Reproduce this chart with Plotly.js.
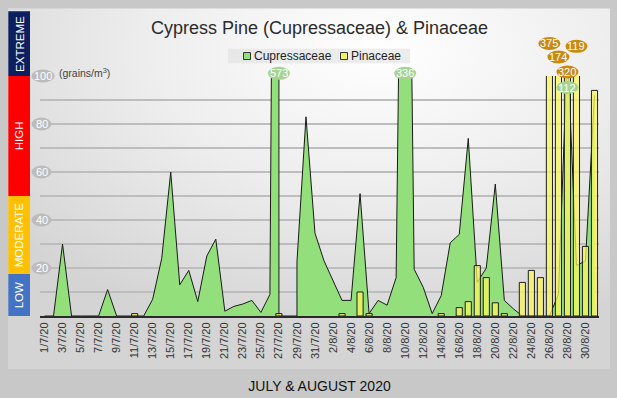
<!DOCTYPE html>
<html><head><meta charset="utf-8">
<script src="https://cdn.plot.ly/plotly-3.0.1.min.js"></script>
<style>html,body{margin:0;padding:0;background:#c8c8c8;}#chart{width:617px;height:398px;}</style>
</head><body><div id="chart"></div>
<script>
// ---------------- DATA ----------------
const dates = ["1/7/20","2/7/20","3/7/20","4/7/20","5/7/20","6/7/20","7/7/20","8/7/20","9/7/20","10/7/20",
"11/7/20","12/7/20","13/7/20","14/7/20","15/7/20","16/7/20","17/7/20","18/7/20","19/7/20","20/7/20",
"21/7/20","22/7/20","23/7/20","24/7/20","25/7/20","26/7/20","27/7/20","28/7/20","29/7/20","30/7/20","31/7/20",
"1/8/20","2/8/20","3/8/20","4/8/20","5/8/20","6/8/20","7/8/20","8/8/20","9/8/20","10/8/20",
"11/8/20","12/8/20","13/8/20","14/8/20","15/8/20","16/8/20","17/8/20","18/8/20","19/8/20","20/8/20",
"21/8/20","22/8/20","23/8/20","24/8/20","25/8/20","26/8/20","27/8/20","28/8/20","29/8/20","30/8/20","31/8/20"];

const cupressaceae = [0,0,30,0,0,0,0,11,0,0,
0,0,7,24,60,13,19,6,25,32,
2,4,5,6.5,1.5,9,573,null,22.5,83,34.5,
23,15,6.5,6.5,51,1,6.5,4.5,16,336,
19.5,12,1,8.5,30.5,34,74,14,20,55,
6.5,3,0,0,0,0,9,112,21,23,92];

const pinaceae = [null,null,null,null,null,null,null,null,null,null,
1,null,null,null,null,null,null,null,null,null,
null,null,null,null,null,null,1,null,null,null,null,
null,null,1,null,10,1,null,null,null,null,
null,null,null,1,null,3.5,6,21,16,5.5,
1,null,14,19,16,375,174,320,119,29,94];

const tickLabels = ["1/7/20","3/7/20","5/7/20","7/7/20","9/7/20","11/7/20","13/7/20","15/7/20","17/7/20","19/7/20",
"21/7/20","23/7/20","25/7/20","27/7/20","29/7/20","31/7/20","2/8/20","4/8/20","6/8/20","8/8/20","10/8/20",
"12/8/20","14/8/20","16/8/20","18/8/20","20/8/20","22/8/20","24/8/20","26/8/20","28/8/20","30/8/20"];

const yTickValues = [20,40,60,80,100];
const bandLabels = ["LOW","MODERATE","HIGH","EXTREME"];
const bandLimits = [0,17.5,50,100,127];
const seriesNames = ["Cupressaceae","Pinaceae"];

// ---------------- STYLE ----------------
const FONT = "Liberation Sans, Arial, Helvetica, sans-serif";
const bandColors = ["#4472c4","#ffc000","#ff0000","#0c1f5e"];
const GREEN = "#93df7c", YELLOW = "rgba(250,246,90,0.74)", YELLOW_SOLID = "#f4f06a";
const bubbleOffsetPx = {"C|27/7/20":-2.7,"C|10/8/20":-2.7,"C|28/8/20":11.5,
  "P|26/8/20":-32.5,"P|27/8/20":-19,"P|28/8/20":-4,"P|29/8/20":-29.7};
const legendBox = {x0:228, x1:410, y0:48.5, y1:63};
const legendItemX = [247, 344];

const W=617,H=398,L=40,R=18,T=75.7,B=82.3;
const PW=W-L-R, PH=H-T-B, N=dates.length;
const yRange=[0,100];
const px2x = p => (p-L)/PW;
const px2y = p => (H-B-p)/PH;
const v2y = v => (v-yRange[0])/(yRange[1]-yRange[0]);
const i2x = i => (i+0.5)/N;

// area path: Excel-style vertical drop at missing days
const ax=[], ay=[];
cupressaceae.forEach((v,i)=>{
  if(v===null){ if(i>0 && cupressaceae[i-1]!==null){ax.push(i-1); ay.push(0);} return; }
  if(i>0 && cupressaceae[i-1]===null){ax.push(i); ay.push(0);}
  ax.push(i); ay.push(v);
});

const traces = [
  {type:'scatter', mode:'lines', x:ax, y:ay, fill:'tozeroy', fillcolor:GREEN,
   line:{color:'#1a1a1a', width:1}, name:seriesNames[0], hoverinfo:'skip'},
  {type:'bar', x:dates.map((d,i)=>i), y:pinaceae, yaxis:'y2', width:0.68,
   marker:{color:YELLOW, line:{color:'#1e1e1e', width:1}}, name:seriesNames[1]}
];

const shapes=[], annotations=[];
bandLabels.forEach((lab,k)=>{
  shapes.push({type:'rect', xref:'paper', yref:'paper', x0:px2x(8.3), x1:px2x(30),
    y0:v2y(bandLimits[k]), y1:v2y(bandLimits[k+1]), fillcolor:bandColors[k], line:{width:0}, layer:'below'});
  annotations.push({xref:'paper', yref:'paper', x:px2x(19.3), y:(v2y(bandLimits[k])+v2y(bandLimits[k+1]))/2,
    text:lab, textangle:-90, showarrow:false, font:{family:FONT, color:'#ffffff', size:11.5},
    xanchor:'center', yanchor:'middle'});
});
yTickValues.forEach(v=>{
  const w = String(v).length>2 ? 23 : 20;
  const cx = 31.5+w/2;
  shapes.push({type:'circle', xref:'paper', yref:'paper', xsizemode:'pixel', ysizemode:'pixel',
    xanchor:px2x(cx), yanchor:v2y(v), x0:-w/2, x1:w/2, y0:-6.5, y1:6.5,
    fillcolor:'#bcbcbc', line:{width:0}, layer:'above'});
  annotations.push({xref:'paper', yref:'paper', x:px2x(cx), y:v2y(v), text:String(v), showarrow:false,
    font:{family:FONT, color:'#ffffff', size:11}, xanchor:'center', yanchor:'middle'});
});
annotations.push({xref:'paper', yref:'paper', x:px2x(57), y:px2y(72), text:'(grains/m<sup>3</sup>)',
  showarrow:false, xanchor:'left', yanchor:'middle', font:{family:FONT, size:10.5, color:'#444'}});

// legend (drawn as shapes + text to match the compact original)
shapes.push({type:'rect', xref:'paper', yref:'paper', x0:px2x(legendBox.x0), x1:px2x(legendBox.x1),
  y0:px2y(legendBox.y1), y1:px2y(legendBox.y0), fillcolor:'rgba(222,222,222,0.55)', line:{width:0}, layer:'below'});
[GREEN, YELLOW_SOLID].forEach((c,k)=>{
  const cy = px2y((legendBox.y0+legendBox.y1)/2);
  shapes.push({type:'rect', xref:'paper', yref:'paper', xsizemode:'pixel', ysizemode:'pixel',
    xanchor:px2x(legendItemX[k]), yanchor:cy, x0:-3.5, x1:3.5, y0:-3.5, y1:3.5,
    fillcolor:c, line:{color:'#333', width:1}, layer:'above'});
  annotations.push({xref:'paper', yref:'paper', x:px2x(legendItemX[k]+4.5), y:cy, text:seriesNames[k],
    showarrow:false, xanchor:'left', yanchor:'middle', font:{family:FONT, size:12, color:'#222'}});
});

// overflow value bubbles
[["C",cupressaceae,"#a6d490"],["P",pinaceae,"#c88a12"]].forEach(([s,arr,col])=>{
  arr.forEach((v,i)=>{
    if(v===null || v<=yRange[1]) return;
    const key=s+"|"+dates[i];
    const yp = px2y(T + (bubbleOffsetPx[key]||0));
    const w = 22;
    shapes.push({type:'circle', xref:'paper', yref:'paper', xsizemode:'pixel', ysizemode:'pixel',
      xanchor:i2x(i), yanchor:yp, x0:-w/2, x1:w/2, y0:-6.5, y1:6.5, fillcolor:col, line:{width:0}, layer:'above'});
    annotations.push({xref:'paper', yref:'paper', x:i2x(i), y:yp, text:String(v), showarrow:false,
      xanchor:'center', yanchor:'middle', font:{family:FONT, size:11, color:'#ffffff'}});
  });
});

const svg = '<svg xmlns="http://www.w3.org/2000/svg" width="602" height="361" viewBox="0 0 602 361" preserveAspectRatio="none">'+
 '<defs><radialGradient id="g" cx="0.62" cy="0.12" r="0.8" gradientUnits="objectBoundingBox">'+
 '<stop offset="0" stop-color="#ffffff"/><stop offset="0.5" stop-color="#ededed"/><stop offset="1" stop-color="#d4d4d4"/></radialGradient></defs>'+
 '<rect width="602" height="361" fill="url(#g)"/></svg>';

const layout = {
  width:W, height:H, margin:{l:L, r:R, t:T, b:B, pad:0},
  paper_bgcolor:'#c8c8c8', plot_bgcolor:'rgba(0,0,0,0)',
  font:{family:FONT, color:'#333'},
  title:{text:'Cypress Pine (Cupressaceae) & Pinaceae', font:{family:FONT, size:18, color:'#2b2b2b'},
    xref:'paper', x:0.5, xanchor:'center', yref:'container', y:1-28/H, yanchor:'middle'},
  showlegend:false,
  xaxis:{range:[-0.5, N-0.5], tickmode:'array', tickvals:tickLabels.map(t=>dates.indexOf(t)), ticktext:tickLabels,
    tickangle:-90, tickfont:{family:FONT, size:11, color:'#333'}, ticks:'', showgrid:false, zeroline:false,
    showline:true, linecolor:'#2a2a2a', linewidth:2,
    title:{text:'JULY & AUGUST 2020', font:{family:FONT, size:14, color:'#111'}, standoff:23}},
  yaxis:{range:yRange, dtick:10, showticklabels:false, ticks:'', showgrid:true, gridcolor:'#bdbdbd', gridwidth:1.5, zeroline:false},
  yaxis2:{range:yRange, overlaying:'y', visible:false},
  shapes:shapes, annotations:annotations,
  images:[{source:'data:image/svg+xml;charset=utf-8,'+encodeURIComponent(svg), xref:'paper', yref:'paper',
    x:px2x(8), y:px2y(8), sizex:(610-8)/PW, sizey:(369-8)/PH, sizing:'stretch', xanchor:'left', yanchor:'top', layer:'below'}]
};
Plotly.newPlot('chart', traces, layout, {displayModeBar:false, staticPlot:true});
</script></body></html>
